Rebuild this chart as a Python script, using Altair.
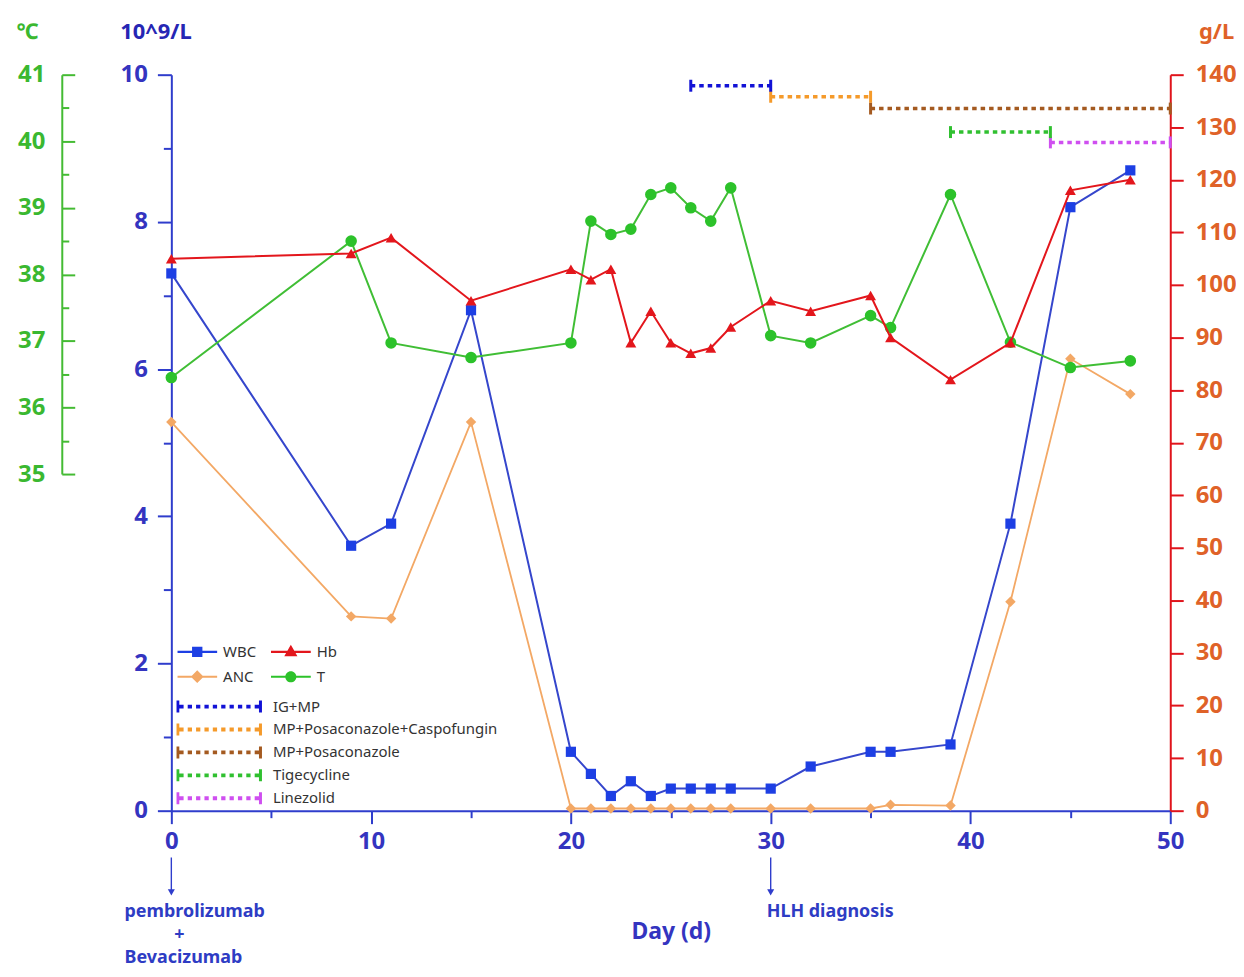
import altair as alt
import pandas as pd

# ---------------- data ----------------
days = [0, 9, 11, 15, 20, 21, 22, 23, 24, 25, 26, 27, 28, 30, 32, 35, 36, 39, 42, 45, 48]
wbc = [7.3, 3.6, 3.9, 6.8, 0.8, 0.5, 0.2, 0.4, 0.2, 0.3, 0.3, 0.3, 0.3, 0.3, 0.6, 0.8, 0.8, 0.9, 3.9, 8.2, 8.7]
anc = [5.28, 2.64, 2.61, 5.28, 0.03, 0.03, 0.03, 0.03, 0.03, 0.03, 0.03, 0.03, 0.03, 0.03, 0.03, 0.03, 0.08, 0.07, 2.84, 6.14, 5.66]
hb = [105, 106, 109, 97, 103, 101, 103, 89, 95, 89, 87, 88, 92, 97, 95, 98, 90, 82, 89, 118, 120]
temp = [36.45, 38.5, 36.97, 36.75, 36.97, 38.8, 38.6, 38.68, 39.2, 39.3, 39.0, 38.8, 39.3, 37.08, 36.97, 37.38, 37.2, 39.2, 36.98, 36.6, 36.7]

# legend order (filled column by column: WBC / ANC, then Hb / T)
series_names = ["WBC", "ANC", "Hb", "T"]

treat_names = ["IG+MP", "MP+Posaconazole+Caspofungin", "MP+Posaconazole", "Tigecycline", "Linezolid"]
treat_start = [26, 30, 35, 39, 44]
treat_end = [30, 35, 50, 44, 50]
treat_lane = [9.85, 9.70, 9.54, 9.22, 9.08]   # vertical lane on the 10^9/L axis

event_days = [0, 30]

# ---------------- style ----------------
W, H = 1003, 739
FONT = "Noto Sans"
AX_BLUE = "#2f3dcc"
LAB_BLUE = "#3434c0"
TITLE_BLUE = "#2626b4"
WBC_LINE = "#3546cc"
WBC_MARK = "#1d3fe4"
HB_COL = "#e3161c"
RED_AX = "#e0141c"
RED_LAB = "#df6228"
ANC_COL = "#f3a865"
T_LINE = "#40be35"
T_MARK = "#2cc22a"
GREEN_AX = "#44bb33"
GREEN_LAB = "#3ab830"
series_colors = [WBC_MARK, ANC_COL, HB_COL, T_MARK]
treat_colors = ["#1212d6", "#f59a2a", "#a45a20", "#30c030", "#cf4ff0"]


def rect(x0, x1, y0, y1):
    return f"M{x0:.3f},{y0:.3f}H{x1:.3f}V{y1:.3f}H{x0:.3f}Z"


line_part = rect(-1, 1, -0.055, 0.055)
series_paths = [
    line_part + rect(-0.26, 0.26, -0.26, 0.26),
    line_part + "M0,-0.32L0.32,0L0,0.32L-0.32,0Z",
    line_part + "M0,-0.36L0.33,0.22L-0.33,0.22Z",
    line_part + "M-0.28,0A0.28,0.28 0 1,1 0.28,0A0.28,0.28 0 1,1 -0.28,0Z",
]
treat_path = rect(-1, -0.93, -0.14, 0.14) + rect(0.93, 1, -0.14, 0.14)
for i in range(10):
    s = -0.93 + i * (1.86 - 0.1) / 9
    treat_path += rect(s, s + 0.1, -0.045, 0.045)

df = pd.DataFrame({"day": days, "WBC": wbc, "ANC": anc, "Hb": hb, "T": temp})
tr = pd.DataFrame({"name": treat_names, "start": treat_start, "end": treat_end, "lane": treat_lane})
caps = pd.concat([tr.assign(pos=tr["start"]), tr.assign(pos=tr["end"])], ignore_index=True)
ev = pd.DataFrame({"day": event_days})

x_scale = alt.Scale(domain=[0, 50], nice=False, zero=False)
blue_scale = alt.Scale(domain=[0, 10], nice=False, zero=False)
red_scale = alt.Scale(domain=[0, 140], nice=False, zero=False)
green_scale = alt.Scale(domain=[35, 41], range=[401, 0], nice=False, zero=False)

# ---------------- axes ----------------
x_major = alt.Axis(orient="bottom", values=[0, 10, 20, 30, 40, 50], tickSize=13, tickWidth=2,
                   tickColor=AX_BLUE, domainColor=AX_BLUE, domainWidth=2, grid=False,
                   labelColor=LAB_BLUE, labelFont=FONT, labelFontSize=24, labelFontWeight="bold",
                   labelPadding=6, labelFlush=False,
                   title="Day (d)", titleColor=LAB_BLUE, titleFont=FONT, titleFontSize=23,
                   titleFontWeight="bold", titleY=121, titleBaseline="middle")
x_minor = alt.Axis(orient="bottom", values=[5, 15, 25, 35, 45], tickSize=7, tickWidth=2,
                   tickColor=AX_BLUE, domain=False, labels=False, grid=False, title=None)

y_blue_major = alt.Axis(orient="left", values=[0, 2, 4, 6, 8, 10], tickSize=14, tickWidth=2,
                        tickColor=AX_BLUE, domainColor=AX_BLUE, domainWidth=2, grid=False,
                        labelColor=LAB_BLUE, labelFont=FONT, labelFontSize=24, labelFontWeight="bold",
                        labelPadding=10, labelFlush=False, title="10^9/L", titleAngle=0,
                        titleX=-16, titleY=-43,
                        titleAlign="center", titleBaseline="middle", titleColor=TITLE_BLUE,
                        titleFont=FONT, titleFontSize=22, titleFontWeight="bold")
y_blue_minor = alt.Axis(orient="left", values=[1, 3, 5, 7, 9], tickSize=8, tickWidth=2,
                        tickColor=AX_BLUE, domain=False, labels=False, grid=False, title=None)

y_red = alt.Axis(orient="right", values=list(range(0, 141, 10)), tickSize=13, tickWidth=2,
                 tickColor=RED_AX, domainColor=RED_AX, domainWidth=2, grid=False,
                 labelColor=RED_LAB, labelFont=FONT, labelFontSize=24, labelFontWeight="bold",
                 labelPadding=12, labelFlush=False, title="g/L", titleAngle=0, titleX=46,
                 titleY=-43, titleAlign="center", titleBaseline="middle", titleColor=RED_LAB,
                 titleFont=FONT, titleFontSize=22, titleFontWeight="bold")

y_green_labels = alt.Axis(orient="left", offset=110, values=[35, 36, 37, 38, 39, 40, 41],
                          ticks=False, tickSize=0, domain=False, grid=False,
                          labelColor=GREEN_LAB, labelFont=FONT, labelFontSize=24,
                          labelFontWeight="bold", labelPadding=17, labelFlush=False,
                          title="℃", titleAngle=0,
                          titleX=-35, titleY=-43, titleAlign="center", titleBaseline="middle",
                          titleColor=GREEN_LAB, titleFont=FONT, titleFontSize=22,
                          titleFontWeight="bold")
y_green_major = alt.Axis(orient="right", offset=-(W + 110), values=[35, 36, 37, 38, 39, 40, 41],
                         tickSize=13, tickWidth=2, tickColor=GREEN_AX, domainColor=GREEN_AX,
                         domainWidth=2, labels=False, grid=False, title=None)
y_green_minor = alt.Axis(orient="right", offset=-(W + 110),
                         values=[35.5, 36.5, 37.5, 38.5, 39.5, 40.5], tickSize=7, tickWidth=2,
                         tickColor=GREEN_AX, domain=False, labels=False, grid=False, title=None)

# ---------------- layers ----------------
base = alt.Chart(df)

anc_layer = base.mark_line(color=ANC_COL, strokeWidth=1.8,
                           point=alt.OverlayMarkDef(shape="diamond", size=110, filled=True,
                                                    color=ANC_COL, opacity=1)).encode(
    x=alt.X("day:Q", scale=x_scale, axis=None),
    y=alt.Y("ANC:Q", scale=blue_scale, axis=y_blue_minor),
)

wbc_layer = base.mark_line(color=WBC_LINE, strokeWidth=2,
                           point=alt.OverlayMarkDef(shape="square", size=105, filled=True,
                                                    color=WBC_MARK, opacity=1)).encode(
    x=alt.X("day:Q", scale=x_scale, axis=x_major),
    y=alt.Y("WBC:Q", scale=blue_scale, axis=y_blue_major),
)

t_line = base.mark_line(color=T_LINE, strokeWidth=2).encode(
    x=alt.X("day:Q", scale=x_scale, axis=None),
    y=alt.Y("T:Q", scale=green_scale, axis=y_green_labels),
)
t_pts = base.mark_point(shape="circle", size=135, filled=True, color=T_MARK, opacity=1).encode(
    x=alt.X("day:Q", scale=x_scale, axis=None),
    y=alt.Y("T:Q", scale=green_scale, axis=y_green_major),
)
t_minor = base.mark_point(size=0, opacity=0).encode(
    x=alt.X("day:Q", scale=x_scale, axis=None),
    y=alt.Y("T:Q", scale=green_scale, axis=y_green_minor),
)

hb_layer = base.mark_line(color=HB_COL, strokeWidth=2,
                          point=alt.OverlayMarkDef(shape="triangle-up", size=120, filled=True,
                                                   color=HB_COL, opacity=1)).encode(
    x=alt.X("day:Q", scale=x_scale, axis=x_minor),
    y=alt.Y("Hb:Q", scale=red_scale, axis=y_red),
)

treat_color = alt.Color("name:N", scale=alt.Scale(domain=treat_names, range=treat_colors), legend=None)

treat_rules = alt.Chart(tr).mark_rule(strokeWidth=3.5, strokeDash=[4.5, 4]).encode(
    x=alt.X("start:Q", scale=x_scale, axis=None),
    x2="end:Q",
    y=alt.Y("lane:Q", scale=blue_scale, axis=None),
    color=treat_color,
)
treat_caps = alt.Chart(caps).mark_tick(orient="vertical", thickness=3, size=12, opacity=1).encode(
    x=alt.X("pos:Q", scale=x_scale, axis=None),
    y=alt.Y("lane:Q", scale=blue_scale, axis=None),
    color=treat_color,
)

series_legend = alt.Legend(orient="none", legendX=6, legendY=568, columns=2, title=None,
                           symbolSize=1600, labelOffset=6, clipHeight=23, rowPadding=2,
                           columnPadding=14, labelFont=FONT, labelFontSize=15,
                           labelColor="#333333", padding=0, symbolStrokeWidth=0, symbolOpacity=1)
leg_series = alt.Chart(pd.DataFrame({"series": series_names})).mark_point(
    filled=True, opacity=1).encode(
    color=alt.Color("series:N", scale=alt.Scale(domain=series_names, range=series_colors),
                    legend=series_legend),
    shape=alt.Shape("series:N", scale=alt.Scale(domain=series_names, range=series_paths),
                    legend=series_legend),
).transform_filter("false")

treat_legend = alt.Legend(orient="none", legendX=5, legendY=623, direction="vertical", title=None,
                          symbolSize=7396, labelOffset=11, clipHeight=23, rowPadding=0,
                          labelFont=FONT, labelFontSize=15, labelColor="#333333", padding=0,
                          labelLimit=600, symbolStrokeWidth=0, symbolOpacity=1)
leg_treat = alt.Chart(pd.DataFrame({"name": treat_names})).mark_point(
    filled=True, opacity=1).encode(
    color=alt.Color("name:N", scale=alt.Scale(domain=treat_names, range=treat_colors),
                    legend=treat_legend),
    shape=alt.Shape("name:N", scale=alt.Scale(domain=treat_names, range=[treat_path] * 5),
                    legend=treat_legend),
).transform_filter("false")

# event arrows & annotations below the axis
ev_base = alt.Chart(ev)
arrows = ev_base.mark_rule(color=AX_BLUE, strokeWidth=1.4).encode(
    x=alt.X("day:Q", scale=x_scale, axis=None),
    y=alt.value(H + 47), y2=alt.value(H + 80),
)
heads = ev_base.mark_point(shape="triangle-down", filled=True, size=50, color=AX_BLUE,
                           opacity=1).encode(
    x=alt.X("day:Q", scale=x_scale, axis=None),
    y=alt.value(H + 82),
)

ann_style = dict(font=FONT, fontSize=18, fontWeight="bold", color="#2e3cc4", baseline="middle")
ann1 = alt.Chart(pd.DataFrame({"day": [0], "t": ["pembrolizumab"]})).mark_text(
    align="left", dx=-47, **ann_style).encode(
    x=alt.X("day:Q", scale=x_scale, axis=None), y=alt.value(H + 102), text="t:N")
ann2 = alt.Chart(pd.DataFrame({"day": [0], "t": ["+"]})).mark_text(
    align="center", dx=8, **ann_style).encode(
    x=alt.X("day:Q", scale=x_scale, axis=None), y=alt.value(H + 125), text="t:N")
ann3 = alt.Chart(pd.DataFrame({"day": [0], "t": ["Bevacizumab"]})).mark_text(
    align="left", dx=-47, **ann_style).encode(
    x=alt.X("day:Q", scale=x_scale, axis=None), y=alt.value(H + 148), text="t:N")
ann4 = alt.Chart(pd.DataFrame({"day": [30], "t": ["HLH diagnosis"]})).mark_text(
    align="left", dx=-4, **ann_style).encode(
    x=alt.X("day:Q", scale=x_scale, axis=None), y=alt.value(H + 102), text="t:N")

chart = alt.layer(
    treat_rules, treat_caps, anc_layer, wbc_layer, t_line, t_pts, t_minor, hb_layer,
    leg_series, leg_treat, arrows, heads, ann1, ann2, ann3, ann4,
).resolve_scale(
    x="independent", y="independent", color="independent", shape="independent"
).properties(
    width=W, height=H,
    autosize=alt.AutoSizeParams(type="none"),
    padding={"left": 164, "top": 65, "right": 66, "bottom": 157},
).configure_view(stroke=None)

chart.save("out.html", embed_options={"renderer": "svg", "actions": False})
